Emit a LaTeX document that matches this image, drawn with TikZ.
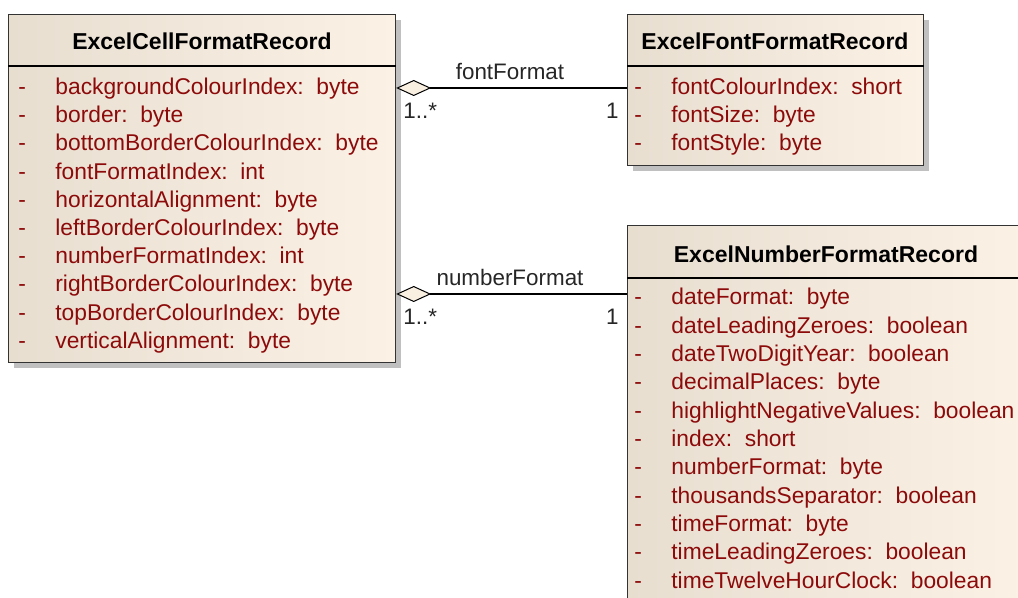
\documentclass[tikz,border=0pt]{standalone}
\usepackage{fontspec}
\setmainfont{Liberation Sans}
\usetikzlibrary{arrows.meta,shadows}
\definecolor{boxleft}{RGB}{232,222,208}
\definecolor{boxright}{RGB}{251,241,229}
\definecolor{attrred}{RGB}{140,10,10}
\definecolor{shadowgray}{RGB}{192,192,192}
\definecolor{diamondfill}{RGB}{250,240,226}
\begin{document}
\begin{tikzpicture}[x=0.5pt, y=-0.5pt,
        classbox/.style={draw=black!80, line width=0.6pt, left color=boxleft, right color=boxright,
            inner sep=0pt, anchor=north west,
            drop shadow={shadow xshift=2.5pt, shadow yshift=-2.5pt, fill=shadowgray, opacity=1}},
        divider/.style={draw=black, line width=0.8pt},
        classname/.style={font=\fontsize{11.5}{14}\selectfont\bfseries, anchor=base, inner sep=0pt},
        attrtext/.style={font=\fontsize{11.4}{14}\selectfont, text=attrred, anchor=base west, inner sep=0pt},
        rolelabel/.style={font=\fontsize{11.2}{14}\selectfont, text=black!85, inner sep=0pt},
        assoc/.style={line width=0.6pt, {Diamond[length=17.5pt, width=8pt, fill=diamondfill, line width=0.5pt]}-}]
            \useasboundingbox (0, 0) rectangle (1018, 598);
            % class boxes
            \node[classbox, minimum width=193.5pt, minimum height=174pt] (cell) at (8, 14) {};
            \node[classbox, minimum width=148pt, minimum height=75.5pt] (font) at (627, 14) {};
            \node[classbox, minimum width=199pt, minimum height=195pt] (number) at (627, 225) {};
            \draw[divider] (cell.west |- 0, 66) -- (cell.east |- 0, 66);
            \draw[divider] (font.west |- 0, 66) -- (font.east |- 0, 66);
            \draw[divider] (number.west |- 0, 278) -- (number.east |- 0, 278);
            \node[classname] (cell-name) at (202, 50) {ExcelCellFormatRecord};
            \node[classname] (font-name) at (775, 50) {ExcelFontFormatRecord};
            \node[classname] (number-name) at (826, 262.5) {ExcelNumberFormatRecord};
            % attributes
            \foreach \a [count=\i] in {backgroundColourIndex:~~byte, border:~~byte,
                    bottomBorderColourIndex:~~byte, fontFormatIndex:~~int,
                    horizontalAlignment:~~byte, leftBorderColourIndex:~~byte,
                    numberFormatIndex:~~int, rightBorderColourIndex:~~byte,
                    topBorderColourIndex:~~byte, verticalAlignment:~~byte} {
                \node[attrtext] (cell-dash-\i) at (18, {94.5+28.2*(\i-1)}) {-};
                \node[attrtext] (cell-attr-\i) at (55, {94.5+28.2*(\i-1)}) {\a};
            }
            \foreach \a [count=\i] in {fontColourIndex:~~short, fontSize:~~byte, fontStyle:~~byte} {
                \node[attrtext] (font-dash-\i) at (634, {94.5+28.2*(\i-1)}) {-};
                \node[attrtext] (font-attr-\i) at (671, {94.5+28.2*(\i-1)}) {\a};
            }
            \foreach \a [count=\i] in {dateFormat:~~byte, dateLeadingZeroes:~~boolean,
                    dateTwoDigitYear:~~boolean, decimalPlaces:~~byte,
                    highlightNegativeValues:~~boolean, index:~~short, numberFormat:~~byte,
                    thousandsSeparator:~~boolean, timeFormat:~~byte,
                    timeLeadingZeroes:~~boolean, timeTwelveHourClock:~~boolean} {
                \node[attrtext] (number-dash-\i) at (634, {304.8+28.35*(\i-1)}) {-};
                \node[attrtext] (number-attr-\i) at (671, {304.8+28.35*(\i-1)}) {\a};
            }
            % associations
            \coordinate (fontrow) at (0, 88);
            \coordinate (numberrow) at (0, 294);
            \draw[assoc] (cell.east |- fontrow) -- (font.west |- fontrow);
            \draw[assoc] (cell.east |- numberrow) -- (number.west |- numberrow);
            \node[rolelabel, anchor=base] (font-role) at (510, 80) {fontFormat};
            \node[rolelabel, anchor=base west] (font-many) at (403, 119) {1..*};
            \node[rolelabel, anchor=base east] (font-one) at (619, 119) {1};
            \node[rolelabel, anchor=base] (number-role) at (510, 286) {numberFormat};
            \node[rolelabel, anchor=base west] (number-many) at (403, 325) {1..*};
            \node[rolelabel, anchor=base east] (number-one) at (619, 325) {1};
        \end{tikzpicture}
\end{document}
